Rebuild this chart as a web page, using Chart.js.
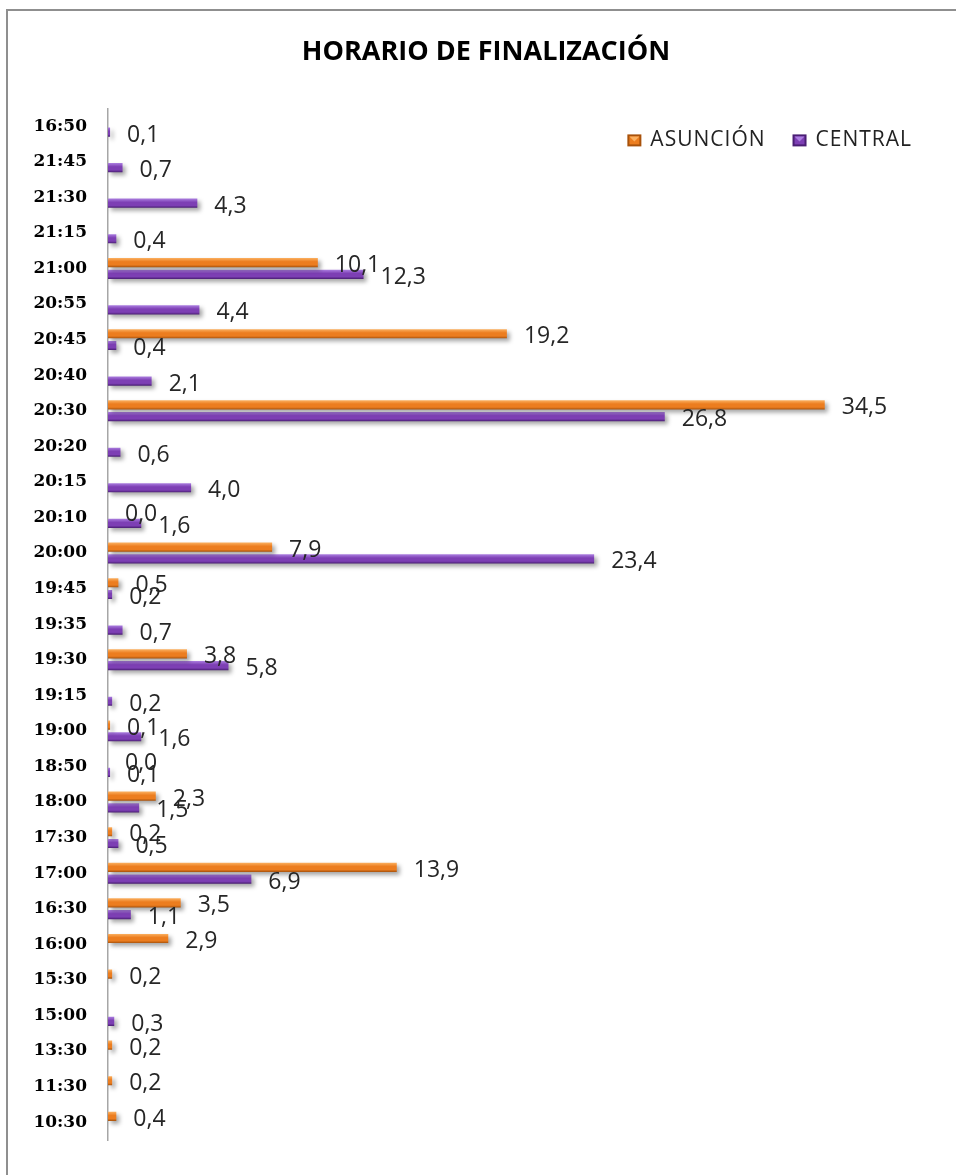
<!DOCTYPE html>
<html>
<head>
<meta charset="utf-8">
<title>Horario de finalización</title>
<script src="https://cdn.jsdelivr.net/npm/chart.js@4.4.1/dist/chart.umd.min.js"></script>
<style>
    html, body { margin: 0; padding: 0; background: #fff; overflow: hidden; }
    #frame {
        position: absolute;
        left: 6px;
        top: 9px;
        width: 1000px;
        height: 1250px;
        border: 2px solid #8f8f8f;
        background: #fff;
    }
    #chart { display: block; }
</style>
</head>
<body>
<div id="frame">
    <canvas id="chart" width="956" height="1170"></canvas>
</div>

<script>
/*  Données  */

const horarios = [
    "16:50", "21:45", "21:30", "21:15", "21:00", "20:55", "20:45", "20:40",
    "20:30", "20:20", "20:15", "20:10", "20:00", "19:45", "19:35", "19:30",
    "19:15", "19:00", "18:50", "18:00", "17:30", "17:00", "16:30", "16:00",
    "15:30", "15:00", "13:30", "11:30", "10:30"
];

const asuncion = [
    null, null, null, null, 10.1, null, 19.2, null,
    34.5, null, null, 0.0, 7.9, 0.5, null, 3.8,
    null, 0.1, 0.0, 2.3, 0.2, 13.9, 3.5, 2.9,
    0.2, null, 0.2, 0.2, 0.4
];

const central = [
    0.1, 0.7, 4.3, 0.4, 12.3, 4.4, 0.4, 2.1,
    26.8, 0.6, 4.0, 1.6, 23.4, 0.2, 0.7, 5.8,
    0.2, 1.6, 0.1, 1.5, 0.5, 6.9, 1.1, null,
    null, 0.3, null, null, null
];

const CAT_PCT = 0.66;
const BAR_PCT = 0.78;

// base, clair, foncé
const ORANGE = ["#ec7d1f", "#fbb060", "#a8520b"];
const VIOLET = ["#7d3fb4", "#ab7ee0", "#4a1e74"];


/*  Couleurs des barres (dégradé façon Excel)  */

function barFill(pal) {
    return function (c) {
        if (c.type !== "data") return pal[0];
        const chart = c.chart;
        const y = chart.scales.y;
        if (!y || !chart.chartArea) return pal[0];
        const cat = y.getPixelForValue(c.dataIndex);
        const slot = (chart.chartArea.height / horarios.length) * CAT_PCT / 2;
        const yc = cat + (c.datasetIndex === 0 ? -slot / 2 : slot / 2);
        const h = slot * BAR_PCT;
        const g = chart.ctx.createLinearGradient(0, yc - h / 2, 0, yc + h / 2);
        g.addColorStop(0, pal[1]);
        g.addColorStop(0.4, pal[0]);
        g.addColorStop(0.75, pal[0]);
        g.addColorStop(1, pal[2]);
        return g;
    };
}


/*  Ombre + étiquettes  */

const shadowAndLabels = {
    id: "shadowAndLabels",
    beforeDatasetsDraw(chart) {
        const ctx = chart.ctx;
        ctx.save();
        ctx.shadowColor = "rgba(0,0,0,0.35)";
        ctx.shadowBlur = 4;
        ctx.shadowOffsetX = 3;
        ctx.shadowOffsetY = 3;
    },
    afterDatasetsDraw(chart) {
        const ctx = chart.ctx;
        ctx.restore();

        ctx.save();
        ctx.font = "23px 'Open Sans'";
        ctx.fillStyle = "#262626";
        ctx.textAlign = "left";
        ctx.textBaseline = "middle";
        chart.data.datasets.forEach((ds, di) => {
            const meta = chart.getDatasetMeta(di);
            meta.data.forEach((bar, i) => {
                const v = ds.data[i];
                if (v === null || v === undefined) return;
                ctx.fillText(v.toFixed(1).replace(".", ","), bar.x + 17, bar.y + 3);
            });
        });
        ctx.restore();
    }
};


/*  Légende dans la zone du graphique (en haut à droite)  */

const insideLegend = {
    id: "insideLegend",
    afterDraw(chart) {
        const ctx = chart.ctx;
        const area = chart.chartArea;
        const pals = [ORANGE, VIOLET];
        const y = area.top + 32;
        let x = area.right - 27;

        ctx.save();
        ctx.font = "21px 'Open Sans'";
        ctx.letterSpacing = "1px";
        ctx.textAlign = "left";
        ctx.textBaseline = "middle";
        for (let k = chart.data.datasets.length - 1; k >= 0; k--) {
            const text = chart.data.datasets[k].label;
            const w = ctx.measureText(text).width;
            x -= w;
            ctx.fillStyle = "#222";
            ctx.fillText(text, x, y);
            x -= 9 + 14;
            // carré biseauté
            ctx.fillStyle = pals[k][2];
            ctx.fillRect(x, y - 6, 14, 12);
            ctx.fillStyle = pals[k][0];
            ctx.fillRect(x + 2, y - 4, 10, 8);
            ctx.fillStyle = pals[k][1];
            ctx.beginPath();
            ctx.moveTo(x + 2, y - 4);
            ctx.lineTo(x + 12, y - 4);
            ctx.lineTo(x + 7, y + 1);
            ctx.closePath();
            ctx.fill();
            x -= 27;
        }
        ctx.restore();
    }
};


/*  Graphique  */

new Chart(document.getElementById("chart"), {
    type: "bar",
    data: {
        labels: horarios,
        datasets: [
            {
                label: "ASUNCIÓN",
                data: asuncion,
                backgroundColor: barFill(ORANGE),
                categoryPercentage: CAT_PCT,
                barPercentage: BAR_PCT
            },
            {
                label: "CENTRAL",
                data: central,
                backgroundColor: barFill(VIOLET),
                categoryPercentage: CAT_PCT,
                barPercentage: BAR_PCT
            }
        ]
    },
    options: {
        indexAxis: "y",
        responsive: false,
        animation: false,
        layout: { padding: { top: 0, left: 25, right: 25, bottom: 41 } },
        scales: {
            x: {
                display: false,
                min: 0,
                max: 40
            },
            y: {
                grid: { display: false, drawTicks: false },
                border: { display: true, color: "#a6a6a6", width: 1.5 },
                ticks: {
                    color: "#000",
                    padding: 21,
                    font: { family: "'DejaVu Serif'", size: 17, weight: "bold" }
                },
                afterFit: s => { s.width = 75; }
            }
        },
        plugins: {
            title: {
                display: true,
                text: "HORARIO DE FINALIZACIÓN",
                color: "#000",
                font: { family: "'Open Sans'", size: 27, weight: "bold", lineHeight: 1.2 },
                padding: { top: 25, bottom: 40 }
            },
            legend: { display: false },
            tooltip: { enabled: false }
        }
    },
    plugins: [shadowAndLabels, insideLegend]
});
</script>
</body>
</html>
